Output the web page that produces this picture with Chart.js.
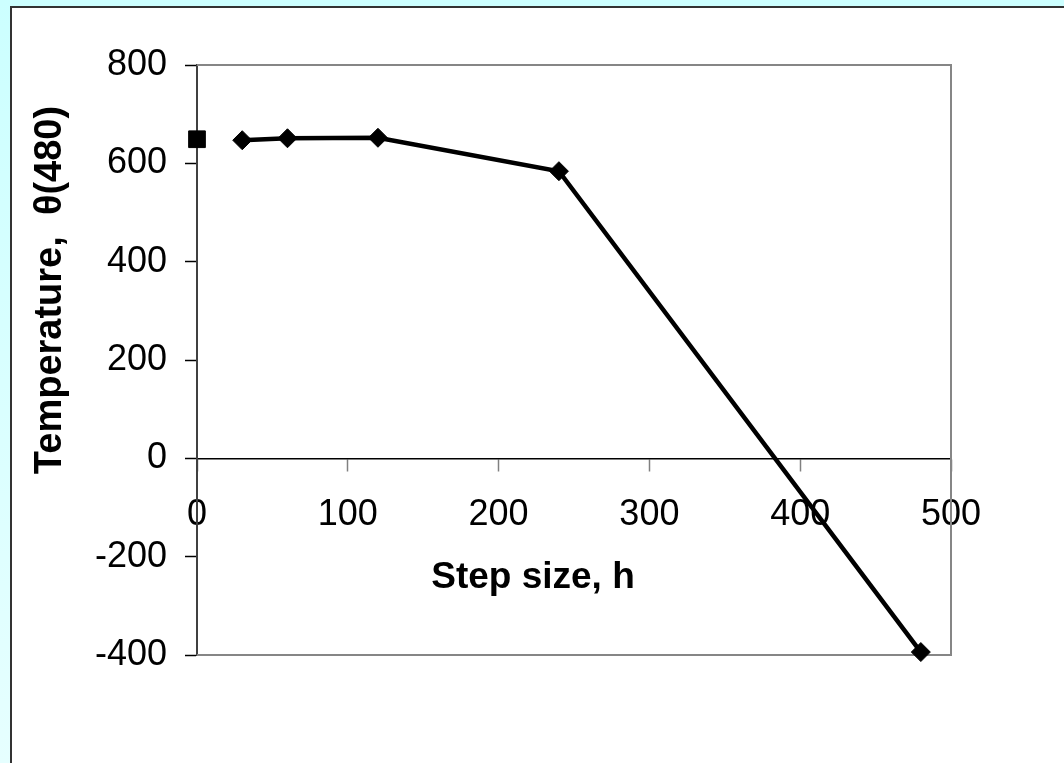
<!DOCTYPE html>
<html>
<head>
<meta charset="utf-8">
<title>Temperature vs step size</title>
<script src="https://cdn.jsdelivr.net/npm/chart.js@4.4.1/dist/chart.umd.min.js"></script>
<style>
    html, body {
        margin: 0;
        padding: 0;
        width: 1064px;
        height: 763px;
        overflow: hidden;
        background: linear-gradient(#ccffff, #e6ffff);
    }
    #panel {
        position: absolute;
        left: 10px;
        top: 6px;
        right: 0;
        bottom: 0;
        background: #fff;
        border-left: 2px solid #333;
        border-top: 2px solid #333;
    }
    #wrap {
        position: absolute;
        left: 0;
        top: 0;
        width: 1064px;
        height: 763px;
    }
</style>
</head>
<body>
<div id="panel"></div>
<div id="wrap"><canvas id="chart"></canvas></div>
<script>
// Euler solution θ(480) for several step sizes
const stepSizes = [30, 60, 120, 240, 480];
const temperatures = [647, 651, 652, 584, -394];

// exact value plotted at h = 0
const exactStep = [0];
const exactTemp = [649];

const xTitle = 'Step size, h';
const yTitle = 'Temperature,  θ(480)';

Chart.defaults.font.family = '"Liberation Sans", Arial, sans-serif';
Chart.defaults.color = '#000';

// plot frame (top, right, bottom) and the axis titles
const framePlugin = {
    id: 'frame',
    beforeDatasetsDraw(chart) {
        const { ctx, chartArea: a } = chart;
        ctx.save();
        ctx.strokeStyle = '#868686';
        ctx.lineWidth = 2;
        ctx.beginPath();
        ctx.moveTo(a.left, a.top);
        ctx.lineTo(a.right, a.top);
        ctx.lineTo(a.right, a.bottom);
        ctx.lineTo(a.left, a.bottom);
        ctx.stroke();
        ctx.restore();
    },
    afterDraw(chart) {
        const { ctx } = chart;
        ctx.save();
        ctx.fillStyle = '#000';
        ctx.textAlign = 'center';
        ctx.textBaseline = 'middle';
        ctx.font = 'bold 37px "Liberation Sans", Arial, sans-serif';
        ctx.fillText(xTitle, 533, 578);
        ctx.font = 'bold 38px "Liberation Sans", Arial, sans-serif';
        ctx.translate(51, 290);
        ctx.rotate(-Math.PI / 2);
        ctx.fillText(yTitle, 0, 0);
        ctx.restore();
    }
};

new Chart(document.getElementById('chart'), {
    type: 'scatter',
    data: {
        datasets: [
            {
                data: stepSizes.map((x, i) => ({ x: x, y: temperatures[i] })),
                showLine: true,
                borderColor: '#000',
                borderWidth: 4.5,
                tension: 0,
                pointStyle: 'rectRot',
                pointRadius: 9.5,
                pointBackgroundColor: '#000',
                pointBorderColor: '#000',
                pointBorderWidth: 1,
                clip: false
            },
            {
                data: exactStep.map((x, i) => ({ x: x, y: exactTemp[i] })),
                showLine: false,
                pointStyle: 'rect',
                pointRadius: 11.8,
                pointBackgroundColor: '#000',
                pointBorderColor: '#000',
                pointBorderWidth: 1,
                clip: false
            }
        ]
    },
    options: {
        responsive: true,
        maintainAspectRatio: false,
        animation: false,
        layout: {
            padding: { left: 0, top: 65, right: 113, bottom: 108 }
        },
        plugins: {
            legend: { display: false },
            tooltip: { enabled: false }
        },
        scales: {
            x: {
                type: 'linear',
                position: { y: 0 },
                min: 0,
                max: 500,
                ticks: {
                    stepSize: 100,
                    padding: 23,
                    font: { size: 36 },
                    color: '#000'
                },
                grid: {
                    drawOnChartArea: false,
                    tickLength: 12,
                    tickColor: '#808080',
                    tickWidth: 1.5
                },
                border: { color: '#000', width: 1.5 }
            },
            y: {
                min: -400,
                max: 800,
                ticks: {
                    stepSize: 200,
                    padding: 18,
                    font: { size: 36 },
                    color: '#000'
                },
                grid: {
                    drawOnChartArea: false,
                    tickLength: 12,
                    tickColor: '#000',
                    tickWidth: 1.5
                },
                border: { color: '#404040', width: 2 },
                afterFit(scale) {
                    scale.width = 197;
                }
            }
        }
    },
    plugins: [framePlugin]
});
</script>
</body>
</html>
